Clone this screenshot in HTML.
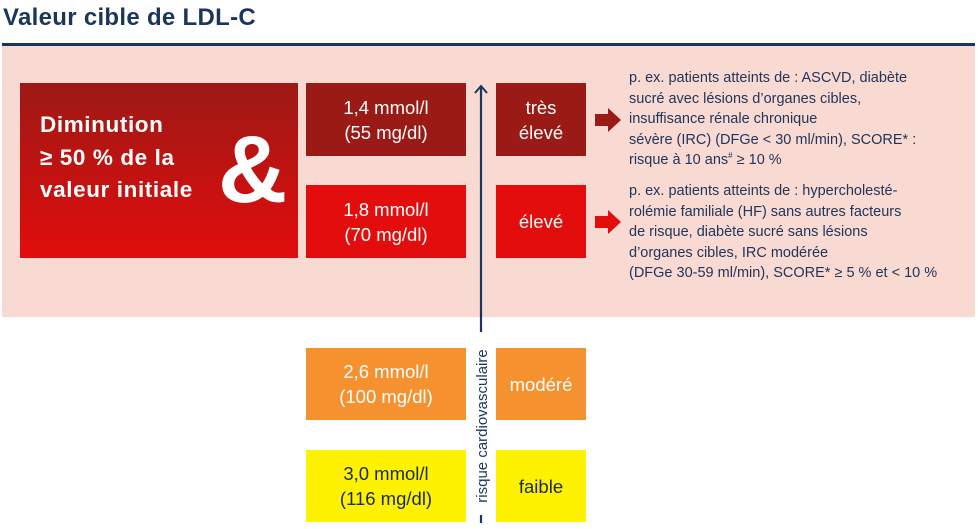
<!DOCTYPE html>
<html><head><meta charset="utf-8"><style>
body{margin:0;width:978px;height:529px;background:#fff;position:relative;overflow:hidden;font-family:"Liberation Sans",sans-serif}
.a{position:absolute}
.box{position:absolute;display:flex;align-items:center;justify-content:center;text-align:center;color:#fff;font-size:18.5px;line-height:25px}
.desc{position:absolute;left:629px;color:#22355a;font-size:14.5px;line-height:20.5px;white-space:nowrap}
sup{font-size:8px;line-height:0}
</style></head><body>
<div class="a" style="left:3px;top:4px;font-size:24px;font-weight:bold;color:#1b365d;letter-spacing:0.3px">Valeur cible de LDL-C</div>
<div class="a" style="left:2px;top:43px;width:973px;height:3px;background:#1b365d"></div>
<div class="a" style="left:2px;top:46px;width:973px;height:271px;background:#f8dad3"></div>
<div class="a" style="left:20px;top:83px;width:278px;height:175px;background:linear-gradient(#9d1915,#e20d0d)"></div>
<div class="a" style="left:40px;top:109px;color:#fff;font-weight:bold;font-size:22.5px;line-height:32.5px;letter-spacing:0.6px">Diminution<br>≥ 50 % de la<br>valeur initiale</div>
<div class="a" style="left:218px;top:124px;color:#fff;font-weight:bold;font-size:96px;line-height:92px">&amp;</div>
<div class="box" style="left:306px;top:83px;width:160px;height:73px;background:#9a1a16">1,4 mmol/l<br>(55 mg/dl)</div>
<div class="box" style="left:306px;top:185px;width:160px;height:73px;background:#e30d0d">1,8 mmol/l<br>(70 mg/dl)</div>
<div class="box" style="left:306px;top:348px;width:160px;height:72px;background:#f5912f">2,6 mmol/l<br>(100 mg/dl)</div>
<div class="box" style="left:306px;top:450px;width:160px;height:72px;background:#fff200;color:#1b2a4a">3,0 mmol/l<br>(116 mg/dl)</div>
<div class="box" style="left:496px;top:83px;width:90px;height:73px;background:#9a1a16">très<br>élevé</div>
<div class="box" style="left:496px;top:185px;width:90px;height:73px;background:#e30d0d">élevé</div>
<div class="box" style="left:496px;top:348px;width:90px;height:72px;background:#f5912f">modéré</div>
<div class="box" style="left:496px;top:450px;width:90px;height:72px;background:#fff200;color:#1b2a4a">faible</div>
<svg class="a" style="left:0;top:0" width="978" height="529">
<line x1="481" y1="86" x2="481" y2="332" stroke="#1b365d" stroke-width="2.2"/>
<polyline points="475,93 481,86 487,93" fill="none" stroke="#1b365d" stroke-width="2"/>
<line x1="481" y1="515" x2="481" y2="523" stroke="#1b365d" stroke-width="2.2"/>
<text transform="translate(487,426) rotate(-90)" text-anchor="middle" font-family="Liberation Sans" font-size="15" fill="#1b365d">risque cardiovasculaire</text>
<polygon points="595,114 608,114 608,108 621,120 608,132 608,126 595,126" fill="#9a1a16"/>
<polygon points="595,216 608,216 608,210 621,222 608,234 608,228 595,228" fill="#e30d0d"/>
</svg>
<div class="desc" style="top:68px">p. ex. patients atteints de : ASCVD, diabète<br>sucré avec lésions d’organes cibles,<br>insuffisance rénale chronique<br>sévère (IRC) (DFGe &lt; 30 ml/min), SCORE* :<br>risque à 10 ans<sup>#</sup> ≥ 10 %</div>
<div class="desc" style="top:181px">p. ex. patients atteints de : hypercholesté-<br>rolémie familiale (HF) sans autres facteurs<br>de risque, diabète sucré sans lésions<br>d’organes cibles, IRC modérée<br>(DFGe 30-59 ml/min), SCORE* ≥ 5 % et &lt; 10 %</div>
</body></html>
